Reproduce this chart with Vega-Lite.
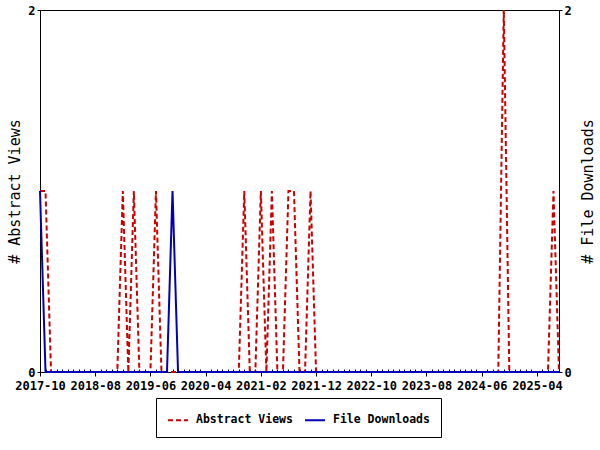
{
  "$schema": "https://vega.github.io/schema/vega-lite/v6.json",
  "width": 519,
  "height": 362,
  "autosize": "none",
  "padding": {"left": 40, "top": 10, "right": 41, "bottom": 78},
  "background": "white",
  "config": {
    "view": {"stroke": "black", "strokeWidth": 1},
    "font": "DejaVu Sans Mono"
  },
  "data": {
    "values": [
      {"month": "2017-10", "views": 1, "downloads": 1},
      {"month": "2017-11", "views": 1, "downloads": 0},
      {"month": "2017-12", "views": 0, "downloads": 0},
      {"month": "2018-01", "views": 0, "downloads": 0},
      {"month": "2018-02", "views": 0, "downloads": 0},
      {"month": "2018-03", "views": 0, "downloads": 0},
      {"month": "2018-04", "views": 0, "downloads": 0},
      {"month": "2018-05", "views": 0, "downloads": 0},
      {"month": "2018-06", "views": 0, "downloads": 0},
      {"month": "2018-07", "views": 0, "downloads": 0},
      {"month": "2018-08", "views": 0, "downloads": 0},
      {"month": "2018-09", "views": 0, "downloads": 0},
      {"month": "2018-10", "views": 0, "downloads": 0},
      {"month": "2018-11", "views": 0, "downloads": 0},
      {"month": "2018-12", "views": 0, "downloads": 0},
      {"month": "2019-01", "views": 1, "downloads": 0},
      {"month": "2019-02", "views": 0, "downloads": 0},
      {"month": "2019-03", "views": 1, "downloads": 0},
      {"month": "2019-04", "views": 0, "downloads": 0},
      {"month": "2019-05", "views": 0, "downloads": 0},
      {"month": "2019-06", "views": 0, "downloads": 0},
      {"month": "2019-07", "views": 1, "downloads": 0},
      {"month": "2019-08", "views": 0, "downloads": 0},
      {"month": "2019-09", "views": 0, "downloads": 0},
      {"month": "2019-10", "views": 0, "downloads": 1},
      {"month": "2019-11", "views": 0, "downloads": 0},
      {"month": "2019-12", "views": 0, "downloads": 0},
      {"month": "2020-01", "views": 0, "downloads": 0},
      {"month": "2020-02", "views": 0, "downloads": 0},
      {"month": "2020-03", "views": 0, "downloads": 0},
      {"month": "2020-04", "views": 0, "downloads": 0},
      {"month": "2020-05", "views": 0, "downloads": 0},
      {"month": "2020-06", "views": 0, "downloads": 0},
      {"month": "2020-07", "views": 0, "downloads": 0},
      {"month": "2020-08", "views": 0, "downloads": 0},
      {"month": "2020-09", "views": 0, "downloads": 0},
      {"month": "2020-10", "views": 0, "downloads": 0},
      {"month": "2020-11", "views": 1, "downloads": 0},
      {"month": "2020-12", "views": 0, "downloads": 0},
      {"month": "2021-01", "views": 0, "downloads": 0},
      {"month": "2021-02", "views": 1, "downloads": 0},
      {"month": "2021-03", "views": 0, "downloads": 0},
      {"month": "2021-04", "views": 1, "downloads": 0},
      {"month": "2021-05", "views": 0, "downloads": 0},
      {"month": "2021-06", "views": 0, "downloads": 0},
      {"month": "2021-07", "views": 1, "downloads": 0},
      {"month": "2021-08", "views": 1, "downloads": 0},
      {"month": "2021-09", "views": 0, "downloads": 0},
      {"month": "2021-10", "views": 0, "downloads": 0},
      {"month": "2021-11", "views": 1, "downloads": 0},
      {"month": "2021-12", "views": 0, "downloads": 0},
      {"month": "2022-01", "views": 0, "downloads": 0},
      {"month": "2022-02", "views": 0, "downloads": 0},
      {"month": "2022-03", "views": 0, "downloads": 0},
      {"month": "2022-04", "views": 0, "downloads": 0},
      {"month": "2022-05", "views": 0, "downloads": 0},
      {"month": "2022-06", "views": 0, "downloads": 0},
      {"month": "2022-07", "views": 0, "downloads": 0},
      {"month": "2022-08", "views": 0, "downloads": 0},
      {"month": "2022-09", "views": 0, "downloads": 0},
      {"month": "2022-10", "views": 0, "downloads": 0},
      {"month": "2022-11", "views": 0, "downloads": 0},
      {"month": "2022-12", "views": 0, "downloads": 0},
      {"month": "2023-01", "views": 0, "downloads": 0},
      {"month": "2023-02", "views": 0, "downloads": 0},
      {"month": "2023-03", "views": 0, "downloads": 0},
      {"month": "2023-04", "views": 0, "downloads": 0},
      {"month": "2023-05", "views": 0, "downloads": 0},
      {"month": "2023-06", "views": 0, "downloads": 0},
      {"month": "2023-07", "views": 0, "downloads": 0},
      {"month": "2023-08", "views": 0, "downloads": 0},
      {"month": "2023-09", "views": 0, "downloads": 0},
      {"month": "2023-10", "views": 0, "downloads": 0},
      {"month": "2023-11", "views": 0, "downloads": 0},
      {"month": "2023-12", "views": 0, "downloads": 0},
      {"month": "2024-01", "views": 0, "downloads": 0},
      {"month": "2024-02", "views": 0, "downloads": 0},
      {"month": "2024-03", "views": 0, "downloads": 0},
      {"month": "2024-04", "views": 0, "downloads": 0},
      {"month": "2024-05", "views": 0, "downloads": 0},
      {"month": "2024-06", "views": 0, "downloads": 0},
      {"month": "2024-07", "views": 0, "downloads": 0},
      {"month": "2024-08", "views": 0, "downloads": 0},
      {"month": "2024-09", "views": 0, "downloads": 0},
      {"month": "2024-10", "views": 2, "downloads": 0},
      {"month": "2024-11", "views": 0, "downloads": 0},
      {"month": "2024-12", "views": 0, "downloads": 0},
      {"month": "2025-01", "views": 0, "downloads": 0},
      {"month": "2025-02", "views": 0, "downloads": 0},
      {"month": "2025-03", "views": 0, "downloads": 0},
      {"month": "2025-04", "views": 0, "downloads": 0},
      {"month": "2025-05", "views": 0, "downloads": 0},
      {"month": "2025-06", "views": 0, "downloads": 0},
      {"month": "2025-07", "views": 1, "downloads": 0},
      {"month": "2025-08", "views": 0, "downloads": 0}
    ]
  },
  "encoding": {
    "x": {
      "field": "month",
      "type": "ordinal",
      "sort": null,
      "scale": {"type": "point", "padding": 0},
      "axis": {
        "title": null,
        "labelAngle": 0,
        "labelOverlap": false,
        "labelExpr": "indexof(['2017-10','2018-08','2019-06','2020-04','2021-02','2021-12','2022-10','2023-08','2024-06','2025-04'], datum.value) >= 0 ? datum.value : ''",
        "labelFont": "DejaVu Sans Mono",
        "labelFontSize": 12,
        "labelFontWeight": "bold",
        "labelColor": "black",
        "labelPadding": 4,
        "tickColor": "black",
        "domainColor": "black",
        "tickSize": {"condition": {"test": "indexof(['2017-10','2018-08','2019-06','2020-04','2021-02','2021-12','2022-10','2023-08','2024-06','2025-04'], datum.value) >= 0", "value": 4}, "value": -3},
        "grid": false
      }
    }
  },
  "layer": [
    {
      "mark": {"type": "line", "strokeWidth": 2},
      "encoding": {
        "y": {
          "field": "views",
          "type": "quantitative",
          "scale": {"domain": [0, 2], "nice": false},
          "axis": {
            "orient": "left",
            "title": "# Abstract Views",
            "values": [0, 2],
            "format": "d",
            "grid": false,
            "tickSize": 3,
            "tickColor": "black",
            "domainColor": "black",
            "labelFont": "DejaVu Sans Mono",
            "labelFontSize": 12,
            "labelFontWeight": "bold",
            "labelColor": "black",
            "labelPadding": 2,
            "titleFont": "DejaVu Sans Mono",
            "titleFontSize": 15,
            "titleFontWeight": "normal",
            "titleColor": "black",
            "titlePadding": 5
          }
        },
        "color": {
          "datum": "Abstract Views",
          "scale": {"domain": ["Abstract Views", "File Downloads"], "range": ["#cc0000", "#0000bb"]},
          "legend": {
            "orient": "none",
            "legendX": 116,
            "legendY": 388,
            "direction": "horizontal",
            "title": null,
            "strokeColor": "black",
            "fillColor": "white",
            "padding": 11,
            "columnPadding": 8,
            "labelOffset": 7,
            "labelFont": "DejaVu Sans Mono",
            "labelFontSize": 11.5,
            "labelFontWeight": "bold",
            "labelColor": "black",
            "symbolType": "stroke",
            "symbolSize": 400,
            "symbolStrokeWidth": 2
          }
        },
        "strokeDash": {
          "datum": "Abstract Views",
          "scale": {"domain": ["Abstract Views", "File Downloads"], "range": [[5, 3], [1, 0]]},
          "legend": {
            "orient": "none",
            "legendX": 116,
            "legendY": 388,
            "direction": "horizontal",
            "title": null,
            "strokeColor": "black",
            "fillColor": "white",
            "padding": 11,
            "columnPadding": 8,
            "labelOffset": 7,
            "labelFont": "DejaVu Sans Mono",
            "labelFontSize": 11.5,
            "labelFontWeight": "bold",
            "labelColor": "black",
            "symbolType": "stroke",
            "symbolSize": 400,
            "symbolStrokeWidth": 2
          }
        }
      }
    },
    {
      "mark": {"type": "line", "strokeWidth": 2},
      "encoding": {
        "y": {
          "field": "downloads",
          "type": "quantitative",
          "scale": {"domain": [0, 2], "nice": false},
          "axis": {
            "orient": "right",
            "title": "# File Downloads",
            "values": [0, 2],
            "format": "d",
            "grid": false,
            "tickSize": 3,
            "tickColor": "black",
            "domainColor": "black",
            "labelFont": "DejaVu Sans Mono",
            "labelFontSize": 12,
            "labelFontWeight": "bold",
            "labelColor": "black",
            "labelPadding": 2,
            "titleFont": "DejaVu Sans Mono",
            "titleFontSize": 15,
            "titleFontWeight": "normal",
            "titleColor": "black",
            "titleAngle": 270,
            "titleBaseline": "top",
            "titlePadding": 9
          }
        },
        "color": {"datum": "File Downloads"},
        "strokeDash": {"datum": "File Downloads"}
      }
    }
  ],
  "resolve": {"scale": {"y": "independent"}}
}
